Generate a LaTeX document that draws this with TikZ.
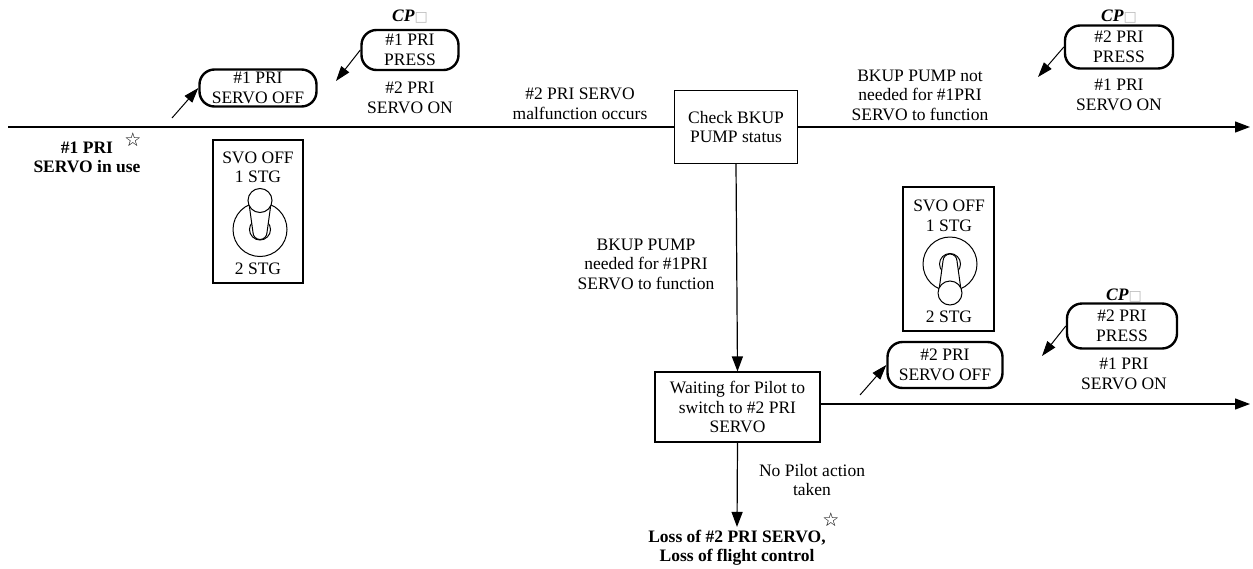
\documentclass[tikz,border=0pt]{standalone}
\usepackage{fontspec}
\setmainfont{Liberation Serif}
\newfontfamily\symfont{DejaVu Sans}
\usepackage{tikz}
\usetikzlibrary{arrows.meta,positioning,calc}

% little marks used in the labels
\newcommand{\cpmark}{\textbf{\textit{CP}}{\color{gray!55}\symfont\fontsize{14}{14}\selectfont □}}
\newcommand{\starmark}{{\symfont\fontsize{19}{19}\selectfont ☆}}

\begin{document}
\begin{tikzpicture}[
        x=1pt, y=-1pt,
        every node/.style={font=\fontsize{17.5}{19.5}\selectfont, align=center},
        procbox/.style={rectangle, draw=black, line width=1.1pt, fill=white, inner sep=2pt},
        btnbox/.style={rectangle, draw=black, line width=2.4pt, rounded corners=15pt, fill=white, inner sep=2pt},
        panel/.style={rectangle, draw=black, line width=1.1pt, inner sep=0pt},
        flow/.style={line width=1.2pt, -{Triangle[length=15pt,width=11pt]}},
        ptr/.style={line width=1pt, -{Triangle[length=15pt,width=10pt]}},
        boldlbl/.style={font=\fontsize{17.5}{19.5}\selectfont\bfseries},
        swline/.style={line width=1pt}
        ]
        \useasboundingbox (0,0) rectangle (1253,568);

        % Main states
        \node[procbox, minimum width=123, minimum height=73] (check) at (736,127) {Check BKUP\\PUMP status};
        \node[procbox, minimum width=165, minimum height=70] (wait) at (737.5,407) {Waiting for Pilot to\\switch to \#2 PRI\\SERVO};
        \node[boldlbl, inner sep=3pt] (loss) at (737,548) {Loss of \#2 PRI SERVO,\\Loss of flight control};
        \node[inner sep=0pt] (star2) at (831,520) {\starmark};
        \node[boldlbl] (inuse) at (87,157.5) {\#1 PRI\\SERVO in use};
        \node[inner sep=0pt] (star1) at (133,140) {\starmark};

        % Free ends of the flow lines
        \coordinate (start) at (8,127);
        \coordinate (end1) at (1250,127);
        \coordinate (end2) at (1250,404);

        % Flow lines
        \draw[line width=1.2pt] (start) -- (check.west);
        \draw[flow] (check.east) -- (end1);
        \draw[flow] (check.south) -- (wait.north);
        \draw[flow] (wait.east |- end2) -- (end2);
        \draw[flow] (wait.south) -- (loss.north);

        % Labels on the flow
        \node (malf) at (580,104) {\#2 PRI SERVO\\malfunction occurs};
        \node (notneed) at (920,95) {BKUP PUMP not\\needed for \#1PRI\\SERVO to function};
        \node (need) at (646,264) {BKUP PUMP\\needed for \#1PRI\\SERVO to function};
        \node (noact) at (812,480) {No Pilot action\\taken};

        % Cockpit buttons and lights
        \node[btnbox, minimum width=117, minimum height=37] (off1) at (258,88) {\#1 PRI\\SERVO OFF};
        \node[btnbox, minimum width=97, minimum height=40] (press1) at (410,50) {\#1 PRI\\PRESS};
        \node[inner sep=0pt] (cp1) at (410,17) {\cpmark};
        \node (on1) at (410,98) {\#2 PRI\\SERVO ON};

        \node[btnbox, minimum width=108, minimum height=43] (press2) at (1119,47) {\#2 PRI\\PRESS};
        \node[inner sep=0pt] (cp2) at (1119,17) {\cpmark};
        \node (on2) at (1119,95) {\#1 PRI\\SERVO ON};

        \node[btnbox, minimum width=115, minimum height=46] (off2) at (945,365) {\#2 PRI\\SERVO OFF};
        \node[btnbox, minimum width=110, minimum height=45] (press3) at (1122,326) {\#2 PRI\\PRESS};
        \node[inner sep=0pt] (cp3) at (1124,296) {\cpmark};
        \node (on3) at (1124,374) {\#1 PRI\\SERVO ON};

        % Pointer arrows
        \coordinate (p1) at (172,118);
        \coordinate (q1) at (336,81);
        \coordinate (q2) at (1038,77);
        \coordinate (p2) at (860,395);
        \coordinate (q3) at (1042,356);
        \draw[ptr] (p1) -- (off1.west);
        \draw[ptr] (press1.west) -- (q1);
        \draw[ptr] (press2.west) -- (q2);
        \draw[ptr] (p2) -- (off2.west);
        \draw[ptr] (press3.west) -- (q3);

        % Switch panel, lever up
        \node[panel, minimum width=90, minimum height=143] (panel1) at (258,211.5) {};
        \node (stg1a) at (258,167.5) {SVO OFF\\1 STG};
        \node (stg1b) at (258,269) {2 STG};
        \begin{scope}[shift={(260,229.5)}, swline]
            \draw (0,0) circle[radius=27];
            \draw (0,0) circle[radius=10.5];
            \draw[fill=white] (-11,-26) -- (-7,3) arc (180:0:7) -- (11,-26) -- cycle;
            \draw[fill=white] (0,-29) circle[radius=12];
        \end{scope}

        % Switch panel, lever down
        \node[panel, minimum width=91, minimum height=144] (panel2) at (948.5,259) {};
        \node (stg2a) at (949,216) {SVO OFF\\1 STG};
        \node (stg2b) at (949,317) {2 STG};
        \begin{scope}[shift={(950,264)}, yscale=-1, swline]
            \draw (0,0) circle[radius=27];
            \draw (0,0) circle[radius=10.5];
            \draw[fill=white] (-11,-26) -- (-7,3) arc (180:0:7) -- (11,-26) -- cycle;
            \draw[fill=white] (0,-29) circle[radius=12];
        \end{scope}

    \end{tikzpicture}
\end{document}
